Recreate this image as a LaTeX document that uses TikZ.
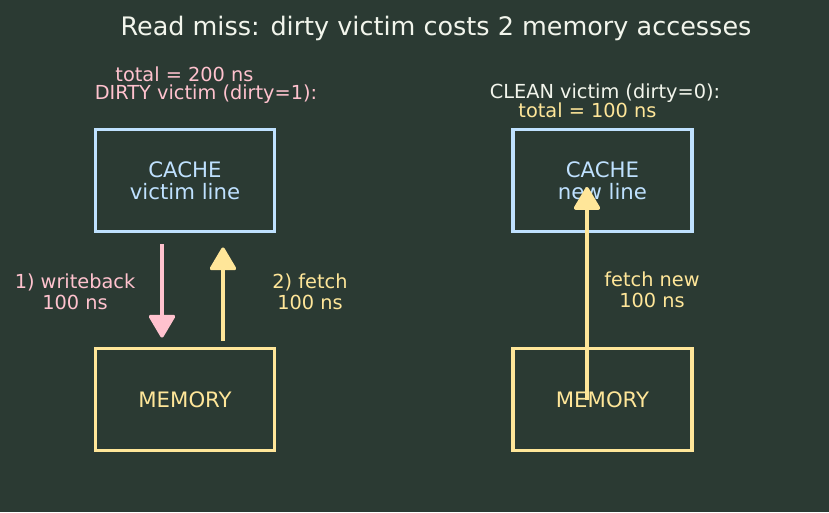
\documentclass[tikz,border=0pt]{standalone}
\usepackage{fontspec}
\setmainfont{DejaVu Sans}
\usetikzlibrary{arrows.meta}

\definecolor{bg}{HTML}{2B3A33}
\definecolor{cachec}{HTML}{BFE1FF}
\definecolor{memc}{HTML}{FFE699}
\definecolor{wbc}{HTML}{FFC2CE}
\definecolor{titlec}{HTML}{F2F5EC}

\tikzset{
  box/.style={draw, line width=2.2pt, minimum width=3.58cm, minimum height=2.04cm,
    align=center, font=\fontsize{12.1}{12.5}\selectfont},
  lbl/.style={align=center, inner sep=0pt, font=\fontsize{11}{12}\selectfont},
  move/.style={line width=2pt, -{Triangle[width=16pt,length=14pt,round]}},
}

\begin{document}
\begin{tikzpicture}[x=0.02cm, y=-0.02cm]
  \fill[bg] (0,0) rectangle (829,512);
  \useasboundingbox (0,0) rectangle (829,512);

  \node[lbl, anchor=base, titlec, font=\fontsize{14.5}{16}\selectfont] (title) at (436,35)
    {Read miss: dirty victim costs 2 memory accesses};

  % dirty victim: write back, then fetch
  \node[lbl, anchor=base, wbc] (dtot) at (184.5,81) {total = 200 ns};
  \node[lbl, anchor=base, wbc] (dhead) at (206,99) {DIRTY victim (dirty=1):};
  \node[box, cachec] (cache1) at (185,180.5) {CACHE\\victim line};
  \node[box, memc] (mem1) at (185,399.5) {MEMORY};
  \draw[move, wbc, shorten <=0.22cm, shorten >=0.18cm]
    ([xshift=-0.46cm]cache1.south) -- ([xshift=-0.46cm]mem1.north);
  \draw[move, memc, shorten <=0.12cm, shorten >=0.28cm]
    ([xshift=0.76cm]mem1.north) -- ([xshift=0.76cm]cache1.south);
  \node[lbl, wbc] (wb) at (75,291.5) {1) writeback\\100 ns};
  \node[lbl, memc] (fe) at (310,291.5) {2) fetch\\100 ns};

  % clean victim: fetch only
  \node[lbl, anchor=base, titlec] (chead) at (605,98) {CLEAN victim (dirty=0):};
  \node[lbl, anchor=base, memc] (ctot) at (587.5,117) {total = 100 ns};
  \node[box, cachec] (cache2) at (602.5,180.5) {CACHE\\new line};
  \node[box, memc] (mem2) at (602.5,399.5) {MEMORY};
  \draw[move, memc, shorten >=0.13cm]
    ([xshift=-0.31cm]mem2.center) -- ([xshift=-0.31cm]cache2.center);
  \node[lbl, memc] (fn) at (652,289.5) {fetch new\\100 ns};
\end{tikzpicture}
\end{document}
